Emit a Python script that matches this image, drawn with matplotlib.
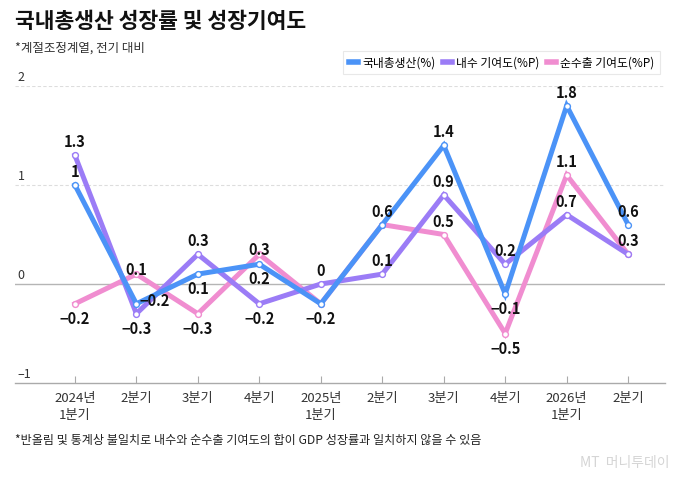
import matplotlib
matplotlib.use('Agg')
import matplotlib.pyplot as plt
from matplotlib.lines import Line2D

plt.rcParams['font.family'] = ['Noto Sans CJK KR', 'DejaVu Sans']
plt.rcParams['axes.unicode_minus'] = True

quarters = ['2024년\n1분기', '2분기', '3분기', '4분기', '2025년\n1분기',
            '2분기', '3분기', '4분기', '2026년\n1분기', '2분기']
gdp = [1.0, -0.2, 0.1, 0.2, -0.2, 0.6, 1.4, -0.1, 1.8, 0.6]
domestic = [1.3, -0.3, 0.3, -0.2, 0.0, 0.1, 0.9, 0.2, 0.7, 0.3]
net_export = [-0.2, 0.1, -0.3, 0.3, -0.2, 0.6, 0.5, -0.5, 1.1, 0.3]
yticks = [-1, 0, 1, 2]

# where each value label goes (None = hidden because another label sits there)
gdp_pos = ['up', 'right', 'down', 'down', 'down', 'up', 'up', 'down', 'up', 'up']
dom_pos = ['up', 'down', 'up', 'down', 'up', 'up', 'up', 'up', 'up', 'up']
net_pos = ['down', 'near', 'down', 'near', None, None, 'up', 'down', 'up', None]

offsets_px = {'up': (0, 13), 'down': (0, -15), 'right': (18, 3), 'near': (0, 4)}

c_gdp = '#4b93f7'
c_dom = '#9b7cf6'
c_net = '#f08dd0'

fig = plt.figure(figsize=(6.8, 4.78), dpi=100)
ax = fig.add_axes([0.022, 0.1987, 0.956, 0.6214])
x = list(range(len(quarters)))

for vals, col, pos in [(net_export, c_net, net_pos), (domestic, c_dom, dom_pos), (gdp, c_gdp, gdp_pos)]:
    ax.plot(x, vals, color=col, lw=3.6, solid_joinstyle='miter', zorder=3,
            marker='o', markersize=4.2, markerfacecolor='white', markeredgecolor=col, markeredgewidth=1)
    for xi, v, p in zip(x, vals, pos):
        if p is None:
            continue
        dx, dy = offsets_px[p]
        txt = f'{v:g}'.replace('-', '\u2212')
        ax.annotate(txt, (xi, v), xytext=(dx * 0.72, dy * 0.72), textcoords='offset points',
                    ha='center', va='center', fontsize=10.5, fontweight='bold', color='#111111', zorder=5)

ax.set_xlim(-0.975, 9.6)
ax.set_ylim(-1, 2)
ax.set_yticks([])
for t in yticks:
    if t == 0:
        ax.axhline(t, color='#b5b5b5', lw=1.0, zorder=1)
    elif t > -1:
        ax.axhline(t, color='#dddddd', lw=0.8, ls=(0, (3, 2)), zorder=1)
    ax.annotate(f'{t}'.replace('-', '\u2013'), (0, t), xycoords=('axes fraction', 'data'),
                xytext=(2, 1.5), textcoords='offset points', ha='left', va='bottom',
                fontsize=9, color='#333333')

for s in ['top', 'right', 'left']:
    ax.spines[s].set_visible(False)
ax.spines['bottom'].set_color('#aaaaaa')
ax.spines['bottom'].set_linewidth(1.0)
ax.set_xticks(x)
ax.set_xticklabels(quarters, fontsize=9.5, color='#333333', linespacing=1.35)
ax.tick_params(axis='x', direction='in', length=5, color='#aaaaaa', pad=6.5)

fig.text(0.022, 0.955, '국내총생산 성장률 및 성장기여도', fontsize=15.5, fontweight='bold',
         color='#111111', ha='left', va='center')
fig.text(0.022, 0.9, '*계절조정계열, 전기 대비', fontsize=9, color='#333333', ha='left', va='center')
fig.text(0.022, 0.079, '*반올림 및 통계상 불일치로 내수와 순수출 기여도의 합이 GDP 성장률과 일치하지 않을 수 있음',
         fontsize=8.7, color='#222222', ha='left', va='center')
fig.text(0.985, 0.031, 'MT  머니투데이', fontsize=10, color='#d5d5d5', ha='right', va='center')

handles = [Line2D([], [], color=c, lw=4) for c in (c_gdp, c_dom, c_net)]
leg = fig.legend(handles, ['국내총생산(%)', '내수 기여도(%P)', '순수출 기여도(%P)'],
                 loc='upper right', bbox_to_anchor=(0.979, 0.906), ncol=3, fontsize=8.5,
                 handlelength=0.8, handletextpad=0.35, columnspacing=0.6, borderpad=0.45,
                 fancybox=False, frameon=True)
leg.get_frame().set_edgecolor('#e3e3e3')
leg.get_frame().set_linewidth(0.8)

fig.savefig('out.png', dpi=100)
